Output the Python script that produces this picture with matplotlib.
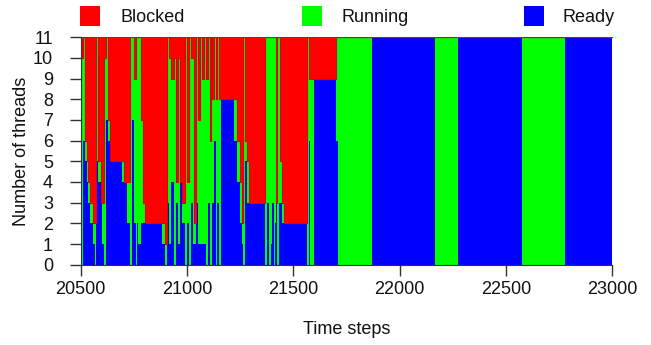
import matplotlib
matplotlib.use("Agg")
import matplotlib.pyplot as plt
from matplotlib.patches import Rectangle

# segment start (time step), ready threads, running threads; blocked = 11 - ready - running
steps = [20500, 20509, 20519, 20530, 20536, 20544, 20558, 20566, 20572, 20583,
         20594, 20602, 20611, 20620, 20627, 20638, 20693, 20705, 20718, 20730,
         20743, 20749, 20759, 20765, 20771, 20784, 20793, 20802, 20884, 20897,
         20906, 20915, 20925, 20937, 20947, 20959, 20969, 20975, 20991, 21000,
         21009, 21019, 21028, 21034, 21044, 21050, 21063, 21072, 21081, 21091,
         21097, 21107, 21113, 21119, 21126, 21135, 21141, 21151, 21160, 21221,
         21234, 21249, 21260, 21265, 21274, 21282, 21293, 21366, 21376, 21384,
         21393, 21400, 21407, 21414, 21419, 21425, 21433, 21439, 21446, 21455,
         21565, 21574, 21580, 21599, 21700, 21709, 21870, 22165, 22272, 22574,
         22778]
ready = [0, 6, 5, 4, 3, 2, 1, 0, 5, 4,
         3, 1, 0, 7, 6, 5, 4, 4, 2, 0,
         7, 2, 0, 2, 1, 2, 2, 2, 1, 0,
         3, 1, 4, 0, 3, 1, 4, 2, 0, 2,
         0, 3, 1, 1, 3, 1, 1, 1, 1, 0,
         3, 0, 0, 3, 6, 0, 3, 0, 8, 6,
         4, 2, 1, 0, 5, 3, 3, 0, 3, 0,
         1, 3, 0, 2, 3, 0, 3, 3, 2, 2,
         0, 6, 0, 9, 6, 0, 11, 0, 11, 0,
         11]
running = [10, 5, 1, 1, 1, 1, 1, 2, 6, 1,
           0, 2, 10, 4, 1, 0, 1, 0, 2, 11,
           4, 7, 11, 9, 10, 5, 1, 0, 1, 1,
           8, 9, 5, 10, 1, 9, 0, 1, 11, 2,
           11, 7, 9, 1, 8, 6, 10, 8, 10, 9,
           8, 6, 11, 5, 5, 8, 8, 8, 0, 2,
           2, 2, 1, 11, 1, 2, 0, 11, 8, 11,
           10, 8, 11, 9, 0, 11, 8, 2, 1, 0,
           11, 3, 9, 0, 5, 11, 0, 11, 0, 11,
           0]
end_step = 23000
total = 11

t = steps + [end_step]
r = ready + [ready[-1]]
g = running + [running[-1]]
rg = [a + b for a, b in zip(r, g)]
top = [total] * len(t)

plt.rcParams['font.family'] = ['Liberation Sans', 'DejaVu Sans']
plt.rcParams['font.size'] = 13

fig = plt.figure(figsize=(6.51, 3.45), dpi=100)
ax = fig.add_axes([0.124, 0.2328, 0.8166, 0.6591])

ax.fill_between(t, 0, r, step='post', color='#0000ff', lw=0)
ax.fill_between(t, r, rg, step='post', color='#00ff00', lw=0)
ax.fill_between(t, rg, top, step='post', facecolor='#ff0000',
                edgecolor='#e00000', lw=0.8)

ax.set_xlim(20500, 23000)
ax.set_ylim(0, 11)
ax.set_xticks(range(20500, 23001, 500))
ax.set_yticks(range(0, 12))
for s in ['top', 'right']:
    ax.spines[s].set_visible(False)
for s in ['left', 'bottom']:
    ax.spines[s].set_color('#333333')
ax.tick_params(axis='both', length=8, width=1, color='#333333', labelcolor='#111111')
ax.tick_params(axis='x', pad=4)
ax.tick_params(axis='y', pad=12)

fig.text(346.5 / 651, 1 - 329 / 345, 'Time steps', ha='center', va='center', color='#111111')
fig.text(22 / 651, 1 - 151 / 345, 'Number of threads', rotation=90,
         ha='center', va='center', color='#111111')

# legend across the top
legend = [('Blocked', '#ff0000', 80, 120), ('Running', '#00ff00', 302, 342),
          ('Ready', '#0000ff', 524, 563)]
for name, col, sx, tx in legend:
    fig.add_artist(Rectangle((sx / 651, 1 - 26 / 345), 20 / 651, 20 / 345,
                             transform=fig.transFigure, facecolor=col, lw=0))
    fig.text(tx / 651, 1 - 18 / 345, name, ha='left', va='center', color='#111111')

fig.savefig('out.png', dpi=100)
